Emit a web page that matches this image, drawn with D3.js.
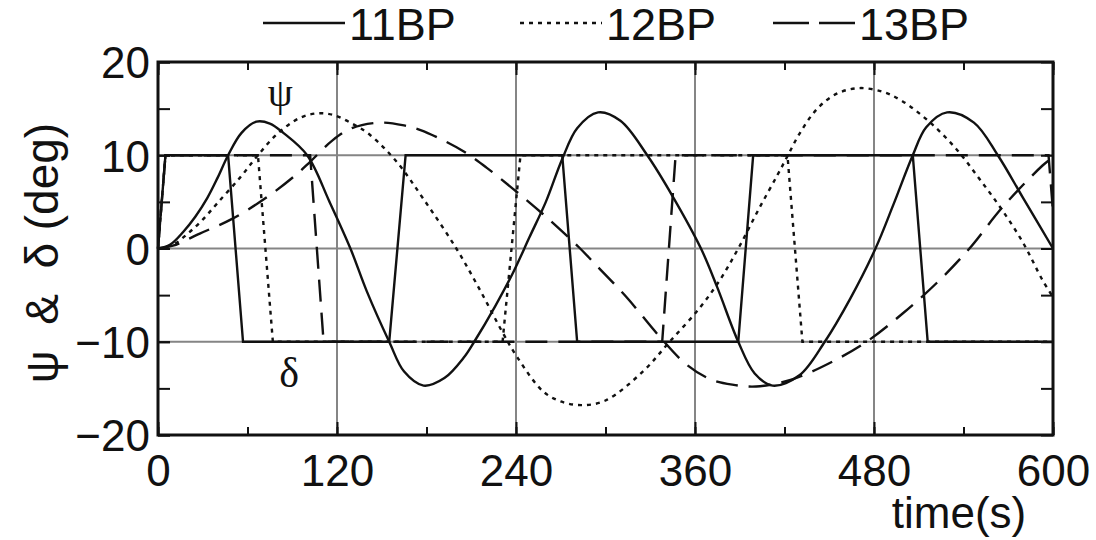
<!DOCTYPE html>
<html lang="en">
<head>
<meta charset="utf-8">
<script src="https://cdn.jsdelivr.net/npm/d3@7"></script>
<style>
    body { margin: 0; background: #fff; }
    text { font-family: "Liberation Sans", Arial, sans-serif; fill: #111; }
    .grid line { stroke: #858585; stroke-width: 2; }
    .tick line { stroke: #111; stroke-width: 2; }
</style>
</head>
<body>
<div id="chart"></div>
<script>

    /* tick values */
    var timeTicks = [0, 120, 240, 360, 480, 600];
    var timeMinor = [0, 60, 120, 180, 240, 300, 360, 420, 480, 540, 600];
    var degTicks = [-20, -10, 0, 10, 20];
    var degMinor = [-20, -15, -10, -5, 0, 5, 10, 15, 20];
    var gridDeg = [-10, 0, 10];
    var gridTime = [120, 240, 360, 480];

    var seriesNames = ["11BP", "12BP", "13BP"];

    /* heading psi [time, deg] */
    var psi11 = [[0,0],[8,0.4],[17,1.8],[25,3.4],[33,5.4],[40,7.6],[47,10],[56,12.4],[66,13.6],[75,13.4],[84,12.4],
        [100,10],[115,5],[129,0],[140,-4.6],[155,-10],[165,-13.2],[178,-14.7],[192,-13.9],[205,-11.7],[212,-10],
        [226,-6.2],[238,-2.6],[249,1.2],[260,5],[271,9.6],[281,12.9],[295,14.6],[310,13.7],[328,10],[345,5.6],
        [364,0],[375,-4.2],[389,-10],[400,-13.4],[412,-14.7],[430,-13.6],[447,-10],[464,-5.4],[481,0],[493,4.7],
        [506,10],[515,13],[529,14.6],[547,13.5],[563,10],[580,5.4],[600,0]];

    var psi12 = [[0,0],[10,0.4],[20,1.6],[30,3.1],[40,4.9],[55,7.6],[67,10],[80,12.3],[95,14],[107,14.5],[118,14.3],
        [130,13.4],[142,12.2],[160,9.3],[178,5.3],[200,0],[216,-4.5],[231,-9],[241,-11.7],[258,-15.3],[270,-16.4],
        [284,-16.8],[300,-16.3],[325,-13.2],[343,-10],[363,-6.4],[377,-3.3],[390,0.3],[403,4.3],[415,7.8],
        [422,9.9],[430,12.3],[442,15],[455,16.6],[470,17.2],[486,16.8],[499,15.8],[517,13.6],[535,10.7],
        [551,7.4],[566,4.1],[580,0.6],[593,-3.4],[600,-5.2]];

    var psi13 = [[0,0],[10,0.3],[28,1.6],[50,3.2],[73,5.5],[91,7.7],[102,9.3],[117,11.6],[130,12.9],[149,13.5],
        [165,13.2],[176,12.7],[190,11.7],[205,10.4],[220,8.7],[238,6.4],[258,3.7],[283,0],[292,-1.5],[314,-5.2],
        [336,-9.4],[354,-12.4],[370,-14],[385,-14.6],[401,-14.8],[424,-14.1],[450,-12.3],[475,-10],[499,-7],
        [522,-3.7],[544,0],[566,4.4],[593,8.9],[600,9.8]];

    /* rudder delta [time, deg] */
    var delta11 = [[0,0],[5,10],[47,10],[57,-10],[155,-10],[166,10],[271,10],[281,-10],[389,-10],[399,10],
        [506,10],[516,-10],[600,-10]];
    var delta12 = [[0,0],[5,10],[67,10],[77,-10],[231,-10],[243,10],[422,10],[432,-10],[600,-10]];
    var delta13 = [[0,0],[5,10],[102,10],[111,-10],[338,-10],[347,10],[597,10],[600,4]];

    var svgWidth = 1096;
    var svgHeight = 540;

    var svg = d3.select("#chart").append("svg")
            .attr("width", svgWidth)
            .attr("height", svgHeight);

    var margin = {top: 62, right: 43, bottom: 105, left: 158};
    var chartWidth = svgWidth - margin.left - margin.right;
    var chartHeight = svgHeight - margin.top - margin.bottom;

    var x = d3.scaleLinear().domain([0, 600]).range([0, chartWidth]);
    var y = d3.scaleLinear().domain([-20, 20]).range([chartHeight, 0]);

    var g = svg.append("g")
            .attr("transform", "translate(" + margin.left + "," + margin.top + ")");

    /* grid lines */
    g.append("g").attr("class", "grid")
            .selectAll("line").data(gridTime).enter().append("line")
            .attr("x1", function(d) { return x(d); })
            .attr("x2", function(d) { return x(d); })
            .attr("y1", 0).attr("y2", chartHeight);

    g.append("g").attr("class", "grid")
            .selectAll("line").data(gridDeg).enter().append("line")
            .attr("y1", function(d) { return y(d); })
            .attr("y2", function(d) { return y(d); })
            .attr("x1", 0).attr("x2", chartWidth);

    /* axes - ticks point inside */
    function clean(sel) { sel.select(".domain").remove(); }

    g.append("g").attr("transform", "translate(0," + chartHeight + ")")
            .call(d3.axisBottom(x).tickValues(timeMinor).tickSize(-8).tickFormat(""))
            .call(clean);
    g.append("g").attr("transform", "translate(0," + chartHeight + ")")
            .call(d3.axisBottom(x).tickValues(timeTicks).tickSize(-13).tickPadding(20).tickFormat(d3.format("d")))
            .call(clean)
            .selectAll("text").style("font-size", "44px");
    g.append("g")
            .call(d3.axisTop(x).tickValues(timeMinor).tickSize(-8).tickFormat(""))
            .call(clean);
    g.append("g")
            .call(d3.axisTop(x).tickValues(timeTicks).tickSize(-13).tickFormat(""))
            .call(clean);

    g.append("g")
            .call(d3.axisLeft(y).tickValues(degMinor).tickSize(-12).tickFormat(""))
            .call(clean);
    g.append("g")
            .call(d3.axisLeft(y).tickValues(degTicks).tickSize(-12).tickPadding(8).tickFormat(d3.format("d")))
            .call(clean)
            .selectAll("text").style("font-size", "44px").attr("dy", "0.36em");
    g.append("g").attr("transform", "translate(" + chartWidth + ",0)")
            .call(d3.axisRight(y).tickValues(degMinor).tickSize(-12).tickFormat(""))
            .call(clean);

    /* lines */
    var psiLine = d3.line()
            .x(function(d) { return x(d[0]); })
            .y(function(d) { return y(d[1]); })
            .curve(d3.curveCatmullRom.alpha(0.5));

    var deltaLine = d3.line()
            .x(function(d) { return x(d[0]); })
            .y(function(d) { return y(d[1]); });

    var dashes = ["none", "4,5", "22,11"];
    var psiData = [psi11, psi12, psi13];
    var deltaData = [delta11, delta12, delta13];

    seriesNames.forEach(function(name, i) {
        g.append("path")
                .datum(deltaData[i])
                .attr("d", deltaLine)
                .attr("fill", "none")
                .attr("stroke", "#111")
                .attr("stroke-width", 2.4)
                .attr("stroke-dasharray", dashes[i]);
        g.append("path")
                .datum(psiData[i])
                .attr("d", psiLine)
                .attr("fill", "none")
                .attr("stroke", "#111")
                .attr("stroke-width", 2.4)
                .attr("stroke-dasharray", dashes[i]);
    });

    /* frame */
    g.append("rect")
            .attr("width", chartWidth)
            .attr("height", chartHeight)
            .attr("fill", "none")
            .attr("stroke", "#111")
            .attr("stroke-width", 3);

    /* annotations */
    g.append("text")
            .attr("x", x(82)).attr("y", y(15.3))
            .attr("text-anchor", "middle")
            .style("font-family", "'Liberation Serif', 'Times New Roman', serif")
            .style("font-size", "40px")
            .text("ψ");
    g.append("text")
            .attr("x", x(88)).attr("y", y(-14.8))
            .attr("text-anchor", "middle")
            .style("font-family", "'Liberation Serif', 'Times New Roman', serif")
            .style("font-size", "42px")
            .text("δ");

    /* axis titles */
    svg.append("text")
            .attr("x", 959).attr("y", 528)
            .attr("text-anchor", "middle")
            .style("font-size", "44px")
            .text("time(s)");

    svg.append("text")
            .attr("transform", "translate(58,253) rotate(-90)")
            .attr("text-anchor", "middle")
            .style("font-size", "46px")
            .style("white-space", "pre")
            .text("ψ  &  δ (deg)");

    /* legend */
    var legendX = [263, 520, 773];
    var legend = svg.append("g");
    seriesNames.forEach(function(name, i) {
        legend.append("line")
                .attr("x1", legendX[i]).attr("x2", legendX[i] + 82)
                .attr("y1", 23).attr("y2", 23)
                .attr("stroke", "#111")
                .attr("stroke-width", 2.4)
                .attr("stroke-dasharray", i == 2 ? "36,10" : dashes[i]);
        legend.append("text")
                .attr("x", legendX[i] + 86).attr("y", 40)
                .style("font-size", "45px")
                .text(name);
    });

</script>
</body>
</html>
